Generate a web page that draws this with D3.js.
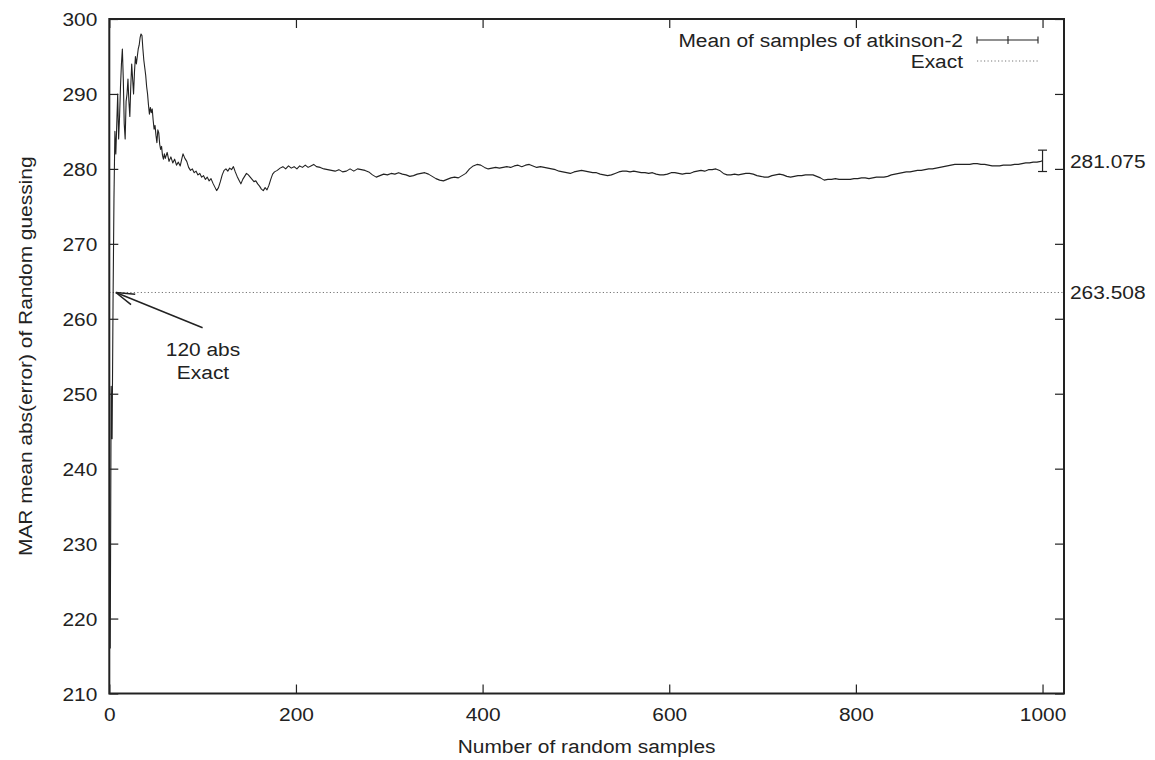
<!DOCTYPE html>
<html><head><meta charset="utf-8">
<script src="https://cdn.jsdelivr.net/npm/d3@7"></script>
<style>
html,body{margin:0;padding:0;background:#fff;}
text{font-family:"Liberation Sans",Arial,Helvetica,sans-serif;fill:#222;}
</style></head>
<body>
<svg id="chart" width="1155" height="760"></svg>
<script>
// ---- data ----
const sampleN = [1,2,3,4,5,6,7,8,9,10,11,12,13,14,15,16,17,18,19,20,21,22,23,24,25,26,27,28,29,30,31,32,33,34,35,36,37,38,39,40,41,42,43,44,45,46,47,48,49,50,51,52,53,54,55,56,57,58,59,60,62,64,66,68,70,72,74,76,78,79,81,83,85,87,89,91,93,95,97,99,101,103,105,107,109,111,113,115,117,119,121,123,125,127,129,131,133,135,137,139,141,143,145,147,149,151,153,155,157,159,161,163,165,167,169,171,173,175,177,180,183,186,189,192,195,198,201,204,207,210,213,216,219,222,226,230,234,238,242,246,250,254,258,262,266,270,274,278,282,286,290,294,298,302,306,310,314,318,322,326,330,334,338,342,346,350,354,358,362,366,370,374,378,382,386,390,394,398,402,406,410,414,418,422,426,430,434,438,442,446,450,454,458,462,466,470,474,478,482,486,490,494,498,502,506,510,514,518,522,526,530,534,538,542,546,550,554,558,562,566,570,574,578,582,586,590,594,598,602,606,610,614,618,622,626,630,634,638,642,646,650,654,658,662,666,670,674,678,682,686,690,694,698,702,706,710,714,718,722,726,730,734,738,742,746,750,754,758,762,766,770,774,778,782,786,790,794,798,802,806,810,814,818,822,826,830,834,838,842,846,850,854,858,862,866,870,874,878,882,886,890,894,898,902,906,910,914,918,922,926,930,934,938,942,946,950,954,958,962,966,970,974,978,982,986,990,994,998,1000];
const meanMAR = [216,251,244,262,276,285,282,286,290,284,287,291,294,296,292,286,284,289,290,292,289,287,291,294,292,290,293,295,294,295,296,296.5,297.5,298,297.8,296,294.5,293.5,292.5,291,290,288.5,287.3,288.2,287.5,288,286.5,285.3,285.8,284.5,283.5,285.2,284.8,283.3,282.6,283.0,281.8,281.3,282.0,281.4,282.2,281.0,281.6,280.8,281.3,280.5,280.9,280.4,281.5,282.0,281.4,281.0,280.2,279.8,280.0,279.5,279.7,279.2,279.4,278.9,279.1,278.6,278.9,278.4,278.7,278.1,277.6,277.1,277.5,278.3,279.2,279.8,280.0,279.7,280.1,279.9,280.3,279.6,279.0,278.5,278.0,278.6,279.0,279.4,279.2,278.9,278.6,278.3,278.4,278.0,277.7,277.3,277.1,277.5,277.2,277.8,278.6,279.3,279.6,279.8,280.1,280.3,280.0,280.4,280.1,280.3,280.0,280.4,280.2,280.5,280.2,280.4,280.6,280.3,280.2,280.0,279.9,279.8,279.7,279.9,279.6,279.7,280.0,279.7,280.0,279.9,279.8,279.6,279.2,278.9,279.1,279.3,279.2,279.4,279.3,279.5,279.3,279.2,279.0,279.1,279.3,279.4,279.5,279.3,279.0,278.7,278.5,278.4,278.6,278.8,278.9,278.8,279.1,279.4,280.0,280.4,280.6,280.5,280.2,280.0,280.1,280.2,280.1,280.2,280.3,280.2,280.4,280.5,280.3,280.5,280.6,280.4,280.2,280.3,280.2,280.1,280.0,279.9,279.7,279.6,279.5,279.4,279.6,279.7,279.8,279.7,279.6,279.5,279.5,279.3,279.2,279.1,279.2,279.4,279.6,279.7,279.7,279.6,279.7,279.6,279.5,279.5,279.4,279.5,279.3,279.2,279.2,279.3,279.5,279.5,279.4,279.3,279.4,279.4,279.6,279.7,279.8,279.7,279.9,279.9,280.0,279.8,279.4,279.2,279.2,279.3,279.2,279.3,279.4,279.4,279.3,279.1,279.0,278.9,278.9,279.1,279.2,279.3,279.2,279.0,278.9,279.0,279.1,279.1,279.2,279.2,279.2,279.0,278.8,278.5,278.6,278.6,278.7,278.6,278.6,278.6,278.6,278.7,278.7,278.8,278.8,278.7,278.8,278.9,278.9,278.9,279.0,279.2,279.3,279.4,279.5,279.6,279.6,279.7,279.8,279.8,279.9,280.0,280.0,280.1,280.2,280.3,280.4,280.5,280.6,280.6,280.6,280.6,280.6,280.7,280.7,280.6,280.6,280.5,280.4,280.4,280.4,280.5,280.5,280.5,280.6,280.6,280.7,280.8,280.8,280.9,280.9,281.0,281.075];
const finalN = 1000;
const finalMean = 281.075;
const finalErrLow = 279.65;
const finalErrHigh = 282.5;
const exactValue = 263.508;
const xTicks = [0,200,400,600,800,1000];
const yTicks = [210,220,230,240,250,260,270,280,290,300];
const seriesLabels = ["Mean of samples of atkinson-2","Exact"];
const rightLabels = ["281.075","263.508"];
const annotationLines = ["120 abs","Exact"];
const annotationTail = [100, 258.8];
const annotationHead = [7, 263.508];
const xTitle = "Number of random samples";
const yTitle = "MAR mean abs(error) of Random guessing";

// ---- layout ----
const svg = d3.select("#chart");
const L = 109.3, R = 1064, T = 19, B = 693.5;
const x = d3.scaleLinear().domain([0, 1023]).range([L, R]);
const y = d3.scaleLinear().domain([210, 300]).range([B, T]);
const ink = "#222";
const FS = 19, SX = 1.1;

function txt(g, s, px, py, anchor, extra) {
  const t = g.append("text")
    .attr("transform", `translate(${px},${py}) scale(${SX},1)` + (extra || ""))
    .attr("text-anchor", anchor)
    .attr("font-size", FS)
    .text(s);
  return t;
}

// Exact dotted line
svg.append("line")
  .attr("x1", L).attr("x2", R)
  .attr("y1", y(exactValue)).attr("y2", y(exactValue))
  .attr("stroke", "#777").attr("stroke-width", 1)
  .attr("stroke-dasharray", "1.2,2.3");

// Series line
const line = d3.line().x((d, i) => x(sampleN[i])).y(d => y(d));
svg.append("path").datum(meanMAR)
  .attr("d", line)
  .attr("fill", "none").attr("stroke", ink).attr("stroke-width", 1.1)
  .attr("stroke-linejoin", "round");

// Error bar at final point
const eb = svg.append("g").attr("stroke", ink).attr("stroke-width", 1.2);
eb.append("line").attr("x1", x(finalN)).attr("x2", x(finalN))
  .attr("y1", y(finalErrLow)).attr("y2", y(finalErrHigh));
[finalErrLow, finalErrHigh].forEach(v => {
  eb.append("line").attr("x1", x(finalN) - 4.5).attr("x2", x(finalN) + 4.5)
    .attr("y1", y(v)).attr("y2", y(v));
});

// Axes (ticks inward, mirrored)
const tickLen = 9;
const gx = svg.append("g").attr("transform", `translate(0,${B})`)
  .call(d3.axisBottom(x).tickValues(xTicks).tickSize(-tickLen).tickPadding(14).tickFormat(d3.format("d")));
const gxt = svg.append("g").attr("transform", `translate(0,${T})`)
  .call(d3.axisTop(x).tickValues(xTicks).tickSize(-tickLen).tickFormat(""));
const gy = svg.append("g").attr("transform", `translate(${L},0)`)
  .call(d3.axisLeft(y).tickValues(yTicks).tickSize(-tickLen).tickPadding(12).tickFormat(d3.format("d")));
const gyr = svg.append("g").attr("transform", `translate(${R},0)`)
  .call(d3.axisRight(y).tickValues(yTicks).tickSize(-tickLen).tickFormat(""));
[gx, gxt, gy, gyr].forEach(g => {
  g.select(".domain").remove();
  g.selectAll(".tick line").attr("stroke", ink).attr("stroke-width", 1.2);
  g.selectAll(".tick text").attr("font-size", FS).attr("fill", ink)
    .attr("font-family", '"Liberation Sans",Arial,sans-serif');
});
gx.selectAll(".tick text").attr("transform", function() { return `scale(${SX},1)`; })
  .attr("x", function(d) { return 0; });
gy.selectAll(".tick text").attr("dy", "0.35em");
gy.selectAll(".tick text").each(function() {
  const t = d3.select(this);
  const xx = +t.attr("x");
  t.attr("x", xx / SX).attr("transform", `scale(${SX},1)`);
});

// Frame
svg.append("rect").attr("x", L).attr("y", T).attr("width", R - L).attr("height", B - T)
  .attr("fill", "none").attr("stroke", ink).attr("stroke-width", 2);

// Right labels
txt(svg, rightLabels[0], 1070, y(finalMean) + 7, "start");
txt(svg, rightLabels[1], 1070, y(exactValue) + 7, "start");

// Legend
txt(svg, seriesLabels[0], 963, 47, "end");
txt(svg, seriesLabels[1], 963, 68, "end");
const lg = svg.append("g").attr("stroke", ink).attr("stroke-width", 1.1);
lg.append("line").attr("x1", 977).attr("x2", 1038).attr("y1", 40).attr("y2", 40);
lg.append("line").attr("x1", 977).attr("x2", 977).attr("y1", 36.5).attr("y2", 43.5);
lg.append("line").attr("x1", 1038).attr("x2", 1038).attr("y1", 36.5).attr("y2", 43.5);
lg.append("line").attr("x1", 1008).attr("x2", 1008).attr("y1", 36).attr("y2", 44);
svg.append("line").attr("x1", 977).attr("x2", 1038).attr("y1", 61).attr("y2", 61)
  .attr("stroke", "#777").attr("stroke-width", 1).attr("stroke-dasharray", "1.2,2.3");

// Annotation arrow
const hx = x(annotationHead[0]), hy = y(annotationHead[1]);
const tx = x(annotationTail[0]), ty = y(annotationTail[1]);
const ag = svg.append("g").attr("stroke", ink).attr("stroke-width", 1.5).attr("fill", "none");
ag.append("line").attr("x1", tx).attr("y1", ty).attr("x2", hx).attr("y2", hy);
const ang = Math.atan2(ty - hy, tx - hx);
[-0.29, 0.29].forEach(da => {
  ag.append("line").attr("x1", hx).attr("y1", hy)
    .attr("x2", hx + 19.5 * Math.cos(ang + da)).attr("y2", hy + 19.5 * Math.sin(ang + da));
});
txt(svg, annotationLines[0], 203, 356, "middle");
txt(svg, annotationLines[1], 203, 379, "middle");

// Axis titles
txt(svg, xTitle, (L + R) / 2, 753, "middle");
svg.append("text")
  .attr("transform", `translate(32,${(T + B) / 2}) rotate(-90) scale(${SX},1)`)
  .attr("text-anchor", "middle").attr("font-size", FS).text(yTitle);
</script>
</body></html>
